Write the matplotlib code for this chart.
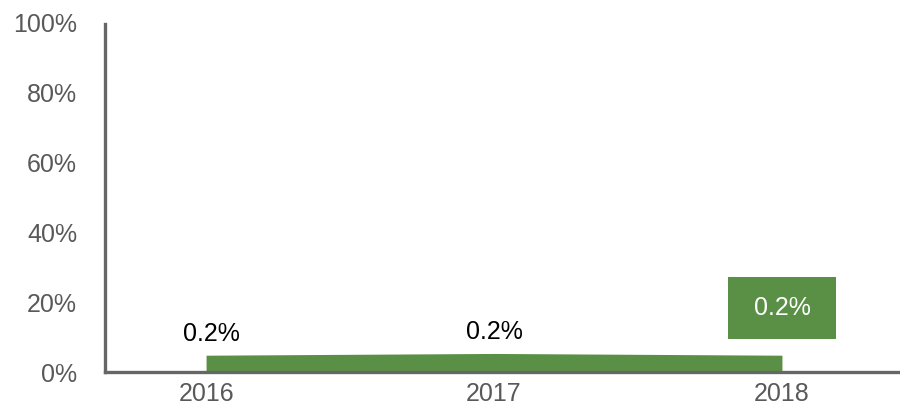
import matplotlib.pyplot as plt
import numpy as np

plt.rcParams['font.family'] = ['Liberation Sans', 'DejaVu Sans']

# chart data
years = ["2016", "2017", "2018"]
area_values = [4.8, 5.3, 4.8]          # drawn height of the band (%)
value_labels = ["0.2%", "0.2%", "0.2%"]
y_ticks = [0, 20, 40, 60, 80, 100]

green = "#5a9045"
axis_grey = "#666666"
text_grey = "#595959"

fig = plt.figure(figsize=(9, 4.07), dpi=100)
ax = fig.add_axes([105 / 900, 35 / 407, 795 / 900, 350 / 407])

x = np.arange(len(years))
ax.fill_between(x, 0, area_values, color=green, linewidth=0)

ax.set_xlim(-0.351, 2.41)
ax.set_ylim(0, 100)
ax.set_xticks(x)
ax.set_xticklabels(years)
ax.set_yticks(y_ticks)
ax.set_yticklabels([f"{t}%" for t in y_ticks])
ax.tick_params(length=0, labelsize=18, labelcolor=text_grey)
ax.tick_params(axis='x', pad=7)
ax.tick_params(axis='y', pad=20)

for side in ['top', 'right']:
    ax.spines[side].set_visible(False)
for side in ['left', 'bottom']:
    ax.spines[side].set_color(axis_grey)
    ax.spines[side].set_linewidth(2.4)
ax.spines['left'].set_bounds(0, 99.3)

# data labels
for i, (v, lab) in enumerate(zip(area_values, value_labels)):
    if i < 2:
        ax.text(i + 0.02 * (1 - i), v + 6.1, lab, ha='center', va='center',
                fontsize=18, color='black')
    else:
        ax.text(i, v + 13.6, f" {lab} ", ha='center', va='center',
                fontsize=18, color='white',
                bbox=dict(boxstyle='square,pad=0.76', fc=green, ec='none'))

fig.savefig("out.png", dpi=100)
